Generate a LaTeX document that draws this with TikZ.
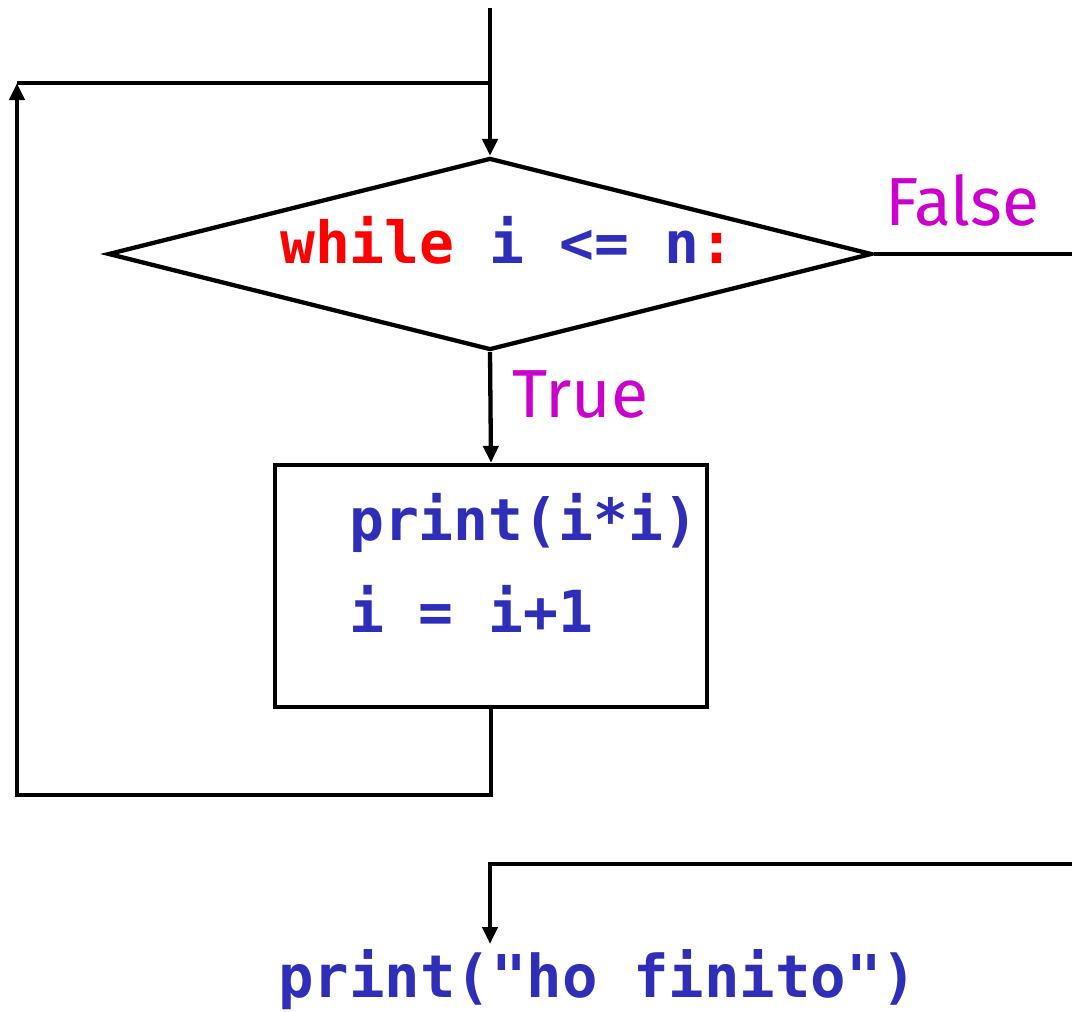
\documentclass[tikz,border=0pt]{standalone}
\usepackage{fontspec}
\setmainfont{Fira Sans}
\newfontfamily\codefont{DejaVu Sans Mono}
\usetikzlibrary{shapes.geometric,arrows.meta}
\definecolor{kw}{RGB}{255,0,0}
\definecolor{code}{RGB}{46,46,184}
\definecolor{lbl}{RGB}{204,0,204}
\begin{document}
\begin{tikzpicture}[x=1pt,y=-1pt,line width=4.3pt,line join=miter,
  arr/.style={-{Triangle[length=17pt,width=15pt]}},
  codetext/.style={font=\codefont\bfseries\fontsize{58}{70}\selectfont,
    text=code,inner sep=0pt,anchor=base west},
  lbltext/.style={font=\fontsize{68}{74}\selectfont,text=lbl,
    inner sep=0pt,anchor=base west}]
\useasboundingbox (0,0) rectangle (1072,1012);

% entry point and loop return
\coordinate (start) at (490,8);
\coordinate (join) at (490,83);
\coordinate (lt) at (17,83);
\coordinate (lb) at (17,795);
\coordinate (falseout) at (1072,254);
\coordinate (exitin) at (1072,864);
\coordinate (finalin) at (490,944);

% condition
\node[draw,diamond,inner sep=0pt,minimum width=764pt,minimum height=192pt]
  (cond) at (490,254) {};
\node[codetext] (condtext) at (278,263)
  {\textcolor{kw}{while} i <= n\textcolor{kw}{:}};

% loop body
\node[draw,rectangle,inner sep=0pt,minimum width=432pt,minimum height=242pt]
  (body) at (491,586) {};
\node[codetext] (bodyA) at (347,540) {print(i*i)};
\node[codetext] (bodyB) at (347,632) {i = i+1};

% after the loop
\node[codetext,font=\codefont\bfseries\fontsize{59}{70}\selectfont]
  (final) at (276,997) {print("ho finito")};

% branch labels
\node[lbltext] (lfalse) at (883,225) {False};
\node[lbltext] (ltrue) at (510,417) {True};

% connectors
\draw[arr] (start) -- (cond.north);
\draw[arr] (cond.south) -- (body.north);
\draw[arr] (body.south) |- (lb) -- (lt);
\draw (lt) -- (join);
\draw (cond.east) -- (falseout);
\draw[arr] (exitin) -| (finalin);
\end{tikzpicture}
\end{document}
